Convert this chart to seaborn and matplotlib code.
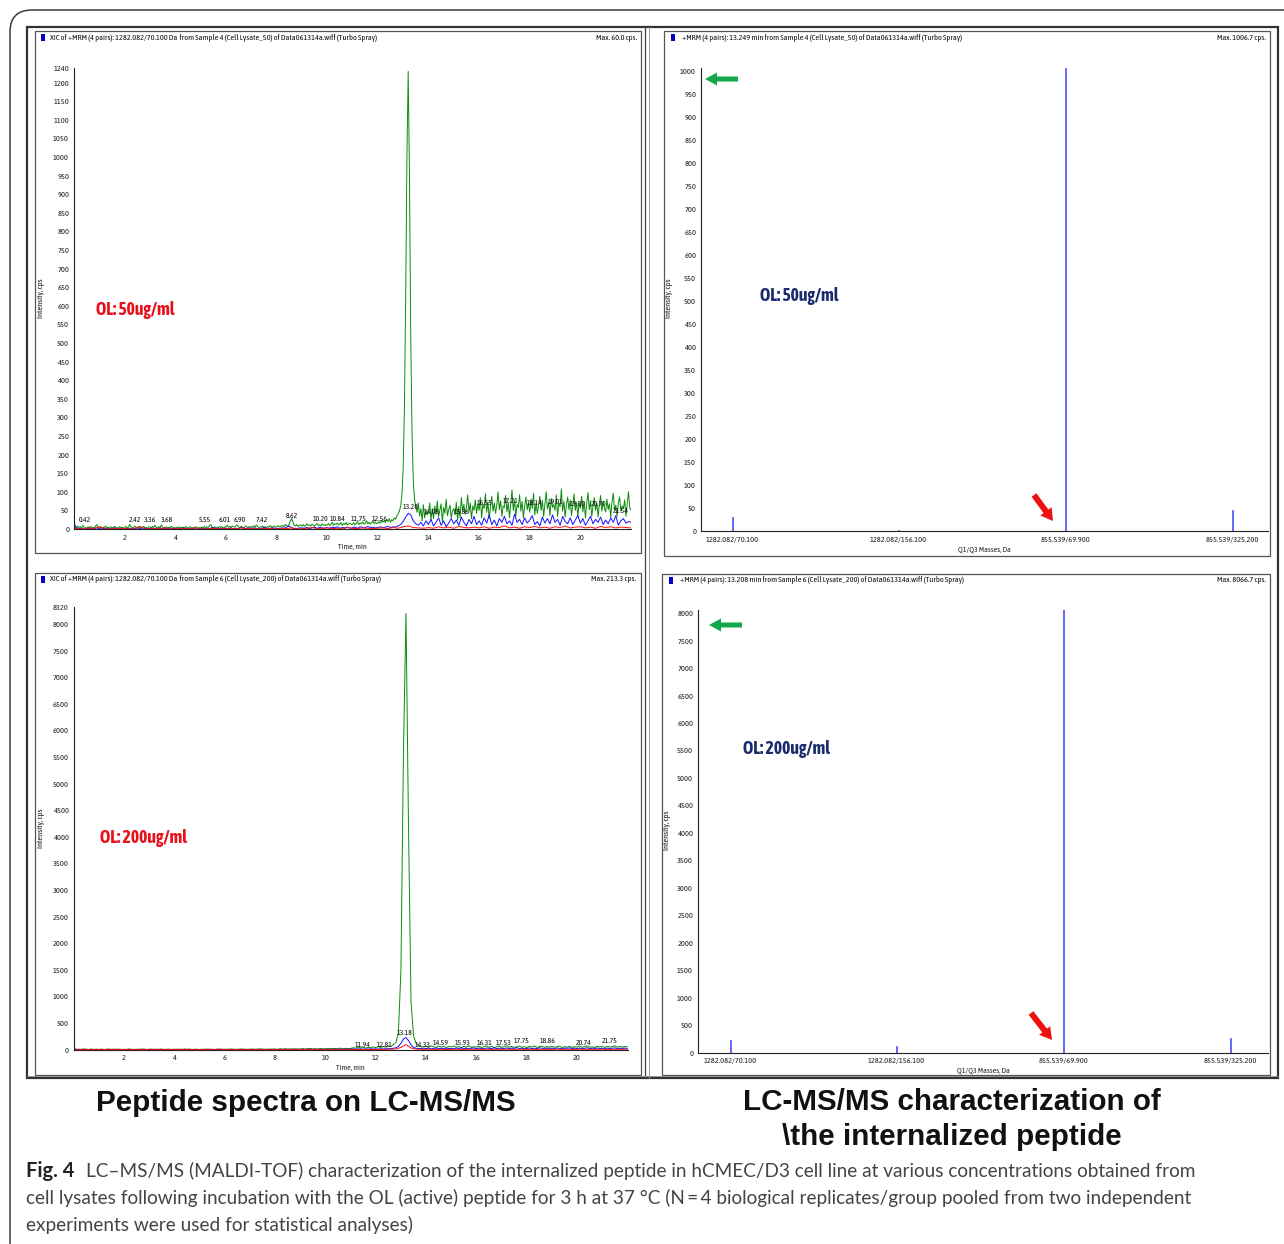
import numpy as np
import pandas as pd
import matplotlib
matplotlib.use("Agg")
import matplotlib.pyplot as plt
import seaborn as sns
from matplotlib import font_manager
from matplotlib.font_manager import weight_dict
from matplotlib.patches import Rectangle, FancyArrow, FancyBboxPatch
from matplotlib.ticker import MultipleLocator, FixedLocator

W, H = 1284, 1244

def nums(s):
    return [float(v) for v in s.split()]

# ---------------- data: top-left chromatogram (50 ug/ml), green sampled every 0.05 min ----------------
tl_green = nums("""
3 5 2 8 4 6 3 9 5 4 2 6 3 7 4 5 2 8 12 4
3 6 2 5 4 8 3 5 2 6 4 3 7 5 2 4 6 3 5 2
4 7 3 5 12 6 3 4 8 5 2 6 4 3 5 7 3 4 2 6
5 3 7 4 10 5 3 6 4 11 5 3 4 6 2 5 3 7 4 3
2 5 3 6 4 3 5 2 7 4 3 5 6 2 4 3 6 5 2 4
3 5 4 7 3 6 4 9 12 5 3 6 4 5 3 7 4 6 3 5
6 10 5 7 4 8 6 5 9 11 6 4 7 5 3 6 8 4 5 7
4 6 9 5 11 7 4 6 5 8 4 6 3 7 5 9 6 4 8 5
6 9 5 8 7 10 6 12 9 7 14 22 28 18 10 8 12 7 9 11
8 12 7 10 14 9 11 8 13 10 7 12 15 9 11 8 14 10 12 9
11 15 9 13 18 10 14 12 16 11 13 17 10 15 12 18 11 14 16 12
13 17 11 15 20 12 16 14 19 13 15 22 14 18 13 17 21 15 19 14
16 20 15 24 18 22 17 26 20 28 18 25 22 30 26 35 40 48 60 90
160 320 620 1000 1230 950 520 260 130 80 60 45 70 35 55 22 65 30 50 38
45 70 25 55 28 62 40 75 33 50 68 20 58 42 80 36 52 64 30 48
55 38 72 24 60 30 85 48 66 40 58 92 45 70 28 62 50 78 42 68
50 84 30 66 55 95 45 72 28 60 88 48 70 42 64 100 52 76 34 62
58 90 46 72 30 68 105 50 78 34 66 58 92 48 74 30 62 86 52 70
45 80 55 96 38 70 42 64 88 50 76 34 68 100 54 72 36 82 58 66
50 92 34 70 60 108 48 74 32 66 86 52 78 36 64 94 50 72 34 68
56 88 46 74 30 70 98 52 76 34 62 84 50 70 32 66 90 48 74 56
46 80 52 68 32 74 96 50 64 34 70 86 48 62 54 78 34 66 100 58
50
""")
# blue sampled every 0.1 min
tl_blue = nums("""
15 3 1 2 0 1 2 0 1 3
1 0 2 1 0 1 3 0 1 2
0 1 2 0 1 3 1 0 2 1
1 2 0 1 3 0 1 2 0 1
2 0 1 3 1 0 2 1 0 1
1 2 0 1 2 4 1 0 2 1
2 1 3 0 2 1 4 2 1 3
1 3 2 0 1 4 2 1 3 2
2 1 3 2 5 8 3 2 1 3
3 2 4 1 3 5 2 4 3 2
4 2 5 3 6 2 4 3 5 2
3 5 2 6 4 3 7 4 5 3
4 6 3 5 7 4 6 5 8 12
20 32 42 38 22 14 10 18 8 22
12 26 8 18 30 10 22 6 16 28
14 24 10 32 18 8 26 14 34 12
22 10 30 16 38 12 24 8 28 18
34 14 22 10 40 18 26 12 30 16
24 36 12 20 8 32 16 28 14 38
18 26 10 34 20 14 30 12 24 36
16 28 10 22 34 14 26 18 32 12
24 14 30 18 36 10 22 28 16 20
18
""")
# red sampled every 0.2 min
tl_red = nums("""
2 1 0 3 1 6 2 0 1 2
1 0 2 7 1 0 2 1 3 0
1 2 0 1 3 1 0 2 1 0
2 1 0 3 1 2 0 1 2 1
0 2 1 3 0 1 2 4 1 2
3 1 2 0 4 2 1 3 2 1
2 3 1 4 2 6 8 4 3 2
4 2 6 3 5 2 7 4 3 5
3 6 2 5 4 8 3 5 2 6
4 7 3 5 2 6 4 8 3 5
6 3 5 2 7 4 6 3 5 4
3
""")
tl_peak_labels = ["0.42", "2.42", "3.36", "3.68", "5.55", "6.01", "6.90", "7.42", "8.62",
                  "10.20", "10.84", "11.75", "12.56", "13.28", "14.08", "15.86", "16.55",
                  "17.21", "18.14", "19.01", "19.80", "20.70", "21.54"]
tl_label_x = [0.43, 2.41, 3.0, 3.67, 5.17, 5.96, 6.56, 7.42, 8.61, 9.76, 10.43, 11.26, 12.09,
              13.31, 14.14, 15.32, 16.23, 17.26, 18.21, 19.04, 19.9, 20.73, 21.6]
tl_label_y = [24, 24, 24, 24, 24, 24, 24, 24, 35, 26, 26, 26, 26, 60, 46, 46, 70, 75, 70, 72,
              67, 67, 48]

# ---------------- data: bottom-left chromatogram (200 ug/ml), every 0.1 min ----------------
bl_green = nums("""
10 4 8 3 12 6 2 9 5 7
4 8 3 6 10 2 7 5 9 3
6 3 9 5 2 8 4 11 6 3
5 9 3 7 4 10 2 6 8 4
7 3 9 5 12 4 6 2 8 5
3 8 5 10 4 7 3 9 6 4
8 4 11 6 3 9 5 13 7 4
6 10 4 8 14 5 9 6 12 7
10 6 14 8 18 9 12 7 15 10
12 18 9 15 22 11 16 10 20 13
15 22 12 25 18 14 28 16 24 19
22 35 26 40 30 48 28 42 34 50
38 55 42 60 46 70 58 90 130 320
1500 5600 8200 4200 900 260 120 70 55 48
62 45 70 52 40 66 48 58 42 60
50 68 44 58 38 62 46 72 40 55
48 64 40 56 70 44 60 38 52 66
42 58 72 46 60 40 54 68 44 56
38 62 48 70 42 56 64 40 58 46
60 44 52 68 38 56 46 62 40 54
48 66 42 58 70 44 52 40 64 50
56 42 62 48 54 72 44 58 46 60
52
""")
bl_blue = nums("""
20 5 2 4 1 3 2 5 1 3
2 4 1 3 5 2 1 4 2 3
1 3 5 2 4 1 3 2 6 1
4 2 3 1 5 3 2 4 1 3
2 5 1 3 2 4 6 1 3 2
3 1 4 2 5 3 1 2 4 3
1 4 2 6 3 1 5 2 3 4
3 2 5 1 4 6 2 3 1 5
4 2 6 3 5 2 4 7 3 5
3 6 4 8 5 3 7 4 6 5
6 4 8 5 10 6 4 9 7 5
8 12 7 10 14 9 12 8 15 11
13 10 16 12 18 14 20 24 35 60
120 200 225 170 90 40 25 18 22 15
20 26 14 22 30 18 24 16 28 20
22 16 28 20 32 18 24 14 26 30
18 28 22 16 30 24 20 34 18 26
24 20 32 18 28 22 36 20 26 16
22 30 18 26 20 34 24 16 28 22
26 18 30 22 16 28 24 32 20 26
20 28 16 24 34 18 26 22 30 18
24 16 28 20 26 32 18 24 22 28
20
""")
bl_red = nums("""
3 1 4 2 0 3 1 2 5 1
2 4 1 3 0 2 5 1 3 2
1 3 2 4 1 2 0 3 1 8
2 1 3 0 2 4 1 3 2 1
3 2 1 4 2 0 3 1 2 4
2 3 1 4 2 5 3 1 4 2
3 5 4 8 12 40 95 30 10 6
5 8 4 7 3 6 9 4 5 7
6 4 8 3 7 5 9 4 6 8
5 7 3 8 4 6 9 5 7 4
6 8 4 7 5 9 3 6 8 5
6
""")
bl_peak_labels = ["11.94", "12.81", "13.18", "14.33", "14.59", "15.93", "16.31", "17.53",
                  "17.75", "18.86", "20.74", "21.75"]
bl_label_x = [11.5, 12.37, 13.16, 13.87, 14.59, 15.47, 16.34, 17.1, 17.8, 18.84, 20.27, 21.3]
bl_label_y = [86, 86, 310, 86, 120, 120, 120, 120, 160, 160, 120, 160]

# ---------------- data: MRM spectra ----------------
transitions = ["1282.082/70.100", "1282.082/156.100", "855.539/69.900", "855.539/325.200"]
tr_intensity = [30, 2, 1006.7, 45]
br_intensity = [220, 120, 8066.7, 260]

tl_header = "XIC of +MRM (4 pairs): 1282.082/70.100 Da  from Sample 4 (Cell Lysate_50) of Data061314a.wiff (Turbo Spray)"
tr_header = "+MRM (4 pairs): 13.249 min from Sample 4 (Cell Lysate_50) of Data061314a.wiff (Turbo Spray)"
bl_header = "XIC of +MRM (4 pairs): 1282.082/70.100 Da  from Sample 6 (Cell Lysate_200) of Data061314a.wiff (Turbo Spray)"
br_header = "+MRM (4 pairs): 13.208 min from Sample 6 (Cell Lysate_200) of Data061314a.wiff (Turbo Spray)"
tl_max, tr_max, bl_max, br_max = "Max. 60.0 cps.", "Max. 1006.7 cps.", "Max. 213.3 cps.", "Max. 8066.7 cps."

caption_1 = "LC\u2013MS/MS (MALDI-TOF) characterization of the internalized peptide in hCMEC/D3 cell line at various concentrations obtained from"
caption_2 = "cell lysates following incubation with the OL (active) peptide for 3 h at 37 \u00b0C (N\u2009=\u20094 biological replicates/group pooled from two independent"
caption_3 = "experiments were used for statistical analyses)"

# ---------------- style / fonts ----------------
sns.set_style("white")


def wnum(w):
    return w if isinstance(w, (int, float)) else weight_dict.get(w, 400)


fam_w = {}
for f in font_manager.fontManager.ttflist:
    fam_w.setdefault(f.name, set()).add(wnum(f.weight))
bad = ("Mono", "Light", "Thin", "Black", "Extra", "Semi", "Medium", "Hairline")
cands = [n for n in fam_w if ("Narrow" in n or "Condensed" in n) and not any(k in n for k in bad)]
cands.sort(key=lambda n: (0 if any(380 <= w <= 420 for w in fam_w[n]) else 1,
                          0 if any(w >= 600 for w in fam_w[n]) else 1, n))
NARROW = cands[0] if cands else "Liberation Sans"
NARROW_BOLD = any(w >= 600 for w in fam_w.get(NARROW, {400}))
BOLDF = NARROW if NARROW_BOLD else "Liberation Sans"
CAPF = "Lato" if "Lato" in fam_w else "Open Sans"
plt.rcParams["font.family"] = [NARROW, "DejaVu Sans"]
plt.rcParams["axes.linewidth"] = 0.8

GREEN, BLUE, RED = "#0a8c0a", "#1010ff", "#ff1010"
BAR = "#4a4aff"

fig = plt.figure(figsize=(W / 100, H / 100), dpi=100)
fig.patch.set_facecolor("white")
renderer = fig.canvas.get_renderer()


def fit(txt, target_w):
    w = txt.get_window_extent(renderer).width
    fs = txt.get_fontsize() * target_w / max(w, 1)
    txt.set_fontsize(fs)
    return fs


def px_axes(l, t, r, b):
    return fig.add_axes([l / W, 1 - b / H, (r - l) / W, (b - t) / H])


def style_axes(ax):
    for s in ("top", "right"):
        ax.spines[s].set_visible(False)
    for s in ("left", "bottom"):
        ax.spines[s].set_color("#222222")
        ax.spines[s].set_linewidth(0.8)
    ax.tick_params(which="major", direction="out", length=2.5, width=0.6, colors="#222222",
                   labelsize=6, pad=1)
    ax.tick_params(which="minor", direction="out", length=1.3, width=0.5, colors="#222222")
    ax.set_facecolor("white")
    ax.grid(False)


def chromatogram(ax, traces, ymax, ymajor, yminor, labels, lab_x, lab_y, lw):
    for t, v, c in traces:
        df = pd.DataFrame({"time": t, "intensity": v})
        sns.lineplot(data=df, x="time", y="intensity", ax=ax, color=c, lw=lw,
                     estimator=None, sort=False, legend=False)
    ax.set_xlim(0, 22)
    ax.set_ylim(0, ymax)
    ax.xaxis.set_major_locator(FixedLocator(list(range(2, 21, 2))))
    ax.xaxis.set_minor_locator(MultipleLocator(0.5))
    ax.yaxis.set_major_locator(FixedLocator(ymajor))
    ax.yaxis.set_minor_locator(MultipleLocator(yminor))
    ax.set_xlabel("Time, min", fontsize=5.8, labelpad=1)
    ax.set_ylabel("")
    for s, x, y in zip(labels, lab_x, lab_y):
        ax.text(x, y, s, fontsize=5.6, ha="center", va="center", color="#111111")
    style_axes(ax)


# ---- top-left ----
ax_tl = px_axes(74, 67.7, 631, 529)
t05 = np.arange(len(tl_green)) * 0.05
t10 = np.arange(len(tl_blue)) * 0.1
t20 = np.arange(len(tl_red)) * 0.2
chromatogram(ax_tl, [(t05, tl_green, GREEN), (t10, tl_blue, BLUE), (t20, tl_red, RED)],
             1240, list(range(0, 1201, 50)) + [1240], 10,
             tl_peak_labels, tl_label_x, tl_label_y, 0.7)

# ---- bottom-left ----
ax_bl = px_axes(73.7, 607, 627.5, 1049.6)
chromatogram(ax_bl, [(np.arange(len(bl_green)) * 0.1, bl_green, GREEN),
                     (np.arange(len(bl_blue)) * 0.1, bl_blue, BLUE),
                     (np.arange(len(bl_red)) * 0.2, bl_red, RED)],
             8320, list(range(0, 8001, 500)) + [8320], 100,
             bl_peak_labels, bl_label_x, bl_label_y, 0.7)


def spectrum(ax, vals, ymax, ymajor, yminor, xlim):
    df = pd.DataFrame({"transition": transitions, "intensity": vals})
    sns.barplot(data=df, x="transition", y="intensity", ax=ax, color=BAR,
                saturation=1, width=0.006, linewidth=0.45, edgecolor=BAR, errorbar=None)
    ax.set_xlim(*xlim)
    ax.set_ylim(0, ymax)
    ax.yaxis.set_major_locator(FixedLocator(ymajor))
    ax.yaxis.set_minor_locator(MultipleLocator(yminor))
    ax.set_xlabel("Q1/Q3 Masses, Da", fontsize=5.8, labelpad=1)
    ax.set_ylabel("")
    style_axes(ax)
    ax.tick_params(axis="x", which="major", direction="inout", length=5)


ax_tr = px_axes(701, 67.9, 1268, 531)
spectrum(ax_tr, tr_intensity, 1006.7, list(range(0, 1001, 50)), 10, (-0.186, 3.215))
ax_br = px_axes(698, 609.5, 1268, 1052.5)
spectrum(ax_br, br_intensity, 8066.7, list(range(0, 8001, 500)), 100, (-0.192, 3.227))

# ---------------- overlay (pixel coordinates) ----------------
ov = fig.add_axes([0, 0, 1, 1])
ov.set_xlim(0, W)
ov.set_ylim(H, 0)
ov.axis("off")
ov.set_zorder(10)
ov.patch.set_alpha(0)

ov.add_patch(FancyBboxPatch((10, 10), W + 20, H + 20,
                            boxstyle="round,pad=0,rounding_size=22",
                            fc="none", ec="#3a3a3a", lw=1.1))
ov.add_patch(Rectangle((27, 27), 1251, 1051, fc="none", ec="#333333", lw=1.6))
for (x0, y0, x1, y1) in [(35, 31, 641, 553), (664, 31, 1270, 556),
                         (35, 573, 641, 1075), (662, 574, 1270, 1075)]:
    ov.add_patch(Rectangle((x0, y0), x1 - x0, y1 - y0, fc="none", ec="#555555", lw=0.9))
ov.plot([645, 645], [27, 1078], color="#444444", lw=0.9)
ov.plot([649, 649], [27, 1078], color="#9a9a9a", lw=0.7)
ov.plot([27, 1278], [1076, 1076], color="#888888", lw=0.6)

# panel headers
hdr_texts = []
for (mx, my, tx, ty, rx, hdr, mxx) in [
        (41, 34, 50, 38, 637, tl_header, tl_max),
        (671, 34, 682, 38, 1266, tr_header, tr_max),
        (41, 576, 50, 579, 636, bl_header, bl_max),
        (669, 577, 680, 580, 1266, br_header, br_max)]:
    ov.add_patch(Rectangle((mx, my), 4, 7, fc="#0000c8", ec="none"))
    a = ov.text(tx, ty, hdr, fontsize=5.3, ha="left", va="center", color="#111111")
    b = ov.text(rx, ty, mxx, fontsize=5.3, ha="right", va="center", color="#111111")
    hdr_texts += [a, b]
hfs = fit(hdr_texts[0], 328)
for t in hdr_texts:
    t.set_fontsize(hfs)

# y-axis titles
for (x, y) in [(41, 298), (669, 298), (41, 828), (667, 830)]:
    ov.text(x, y, "Intensity, cps", fontsize=hfs, rotation=90, ha="center", va="center",
            color="#111111")

# concentration labels
ol = [ov.text(96, 310, "OL: 50ug/ml", family=[BOLDF, "DejaVu Sans"], fontsize=11,
              fontweight="bold", color="#e8101a", ha="left", va="center"),
      ov.text(100, 838, "OL: 200ug/ml", family=[BOLDF, "DejaVu Sans"], fontsize=11,
              fontweight="bold", color="#e8101a", ha="left", va="center"),
      ov.text(760, 296, "OL: 50ug/ml", family=[BOLDF, "DejaVu Sans"], fontsize=11,
              fontweight="bold", color="#1c2a6e", ha="left", va="center"),
      ov.text(743, 749, "OL: 200ug/ml", family=[BOLDF, "DejaVu Sans"], fontsize=11,
              fontweight="bold", color="#1c2a6e", ha="left", va="center")]
ofs = fit(ol[0], 79)
for t in ol:
    t.set_fontsize(ofs)

# arrows
ov.add_patch(FancyArrow(738, 79, -33, 0, width=5, head_width=13, head_length=12,
                        length_includes_head=True, color="#12a84a", lw=0))
ov.add_patch(FancyArrow(742, 625, -33, 0, width=5, head_width=13, head_length=12,
                        length_includes_head=True, color="#12a84a", lw=0))
ov.add_patch(FancyArrow(1034, 495, 19, 26, width=6, head_width=14, head_length=12,
                        length_includes_head=True, color="#ee1111", lw=0))
ov.add_patch(FancyArrow(1031, 1013, 21, 27, width=6, head_width=14, head_length=12,
                        length_includes_head=True, color="#ee1111", lw=0))

# bottom titles
TF = ["Liberation Sans", "DejaVu Sans"]
t1 = ov.text(306, 1103, "Peptide spectra on LC-MS/MS", family=TF, fontsize=21.3,
             fontweight="bold", ha="center", va="center", color="#111111")
t2 = ov.text(952, 1102, "LC-MS/MS characterization of", family=TF, fontsize=21.3,
             fontweight="bold", ha="center", va="center", color="#111111")
t3 = ov.text(952, 1137, "\\the internalized peptide", family=TF, fontsize=21.3,
             fontweight="bold", ha="center", va="center", color="#111111")
tfs = fit(t1, 420)
t2.set_fontsize(tfs)
t3.set_fontsize(tfs)

# caption
CF = [CAPF, "DejaVu Sans"]
fg = ov.text(26, 1171, "Fig. 4", family=CF, fontsize=14, fontweight="bold", ha="left",
             va="center", color="#222222")
fit(fg, 49)
c1 = ov.text(86, 1171, caption_1, family=CF, fontsize=13.6, ha="left",
             va="center", color="#444444")
c2 = ov.text(26, 1198, caption_2, family=CF, fontsize=13.6, ha="left",
             va="center", color="#444444")
c3 = ov.text(26, 1225, caption_3, family=CF, fontsize=13.6, ha="left",
             va="center", color="#444444")
cfs = fit(c1, 1110)
c2.set_fontsize(cfs)
c3.set_fontsize(cfs)

fig.savefig("out.png", dpi=100, facecolor="white")
